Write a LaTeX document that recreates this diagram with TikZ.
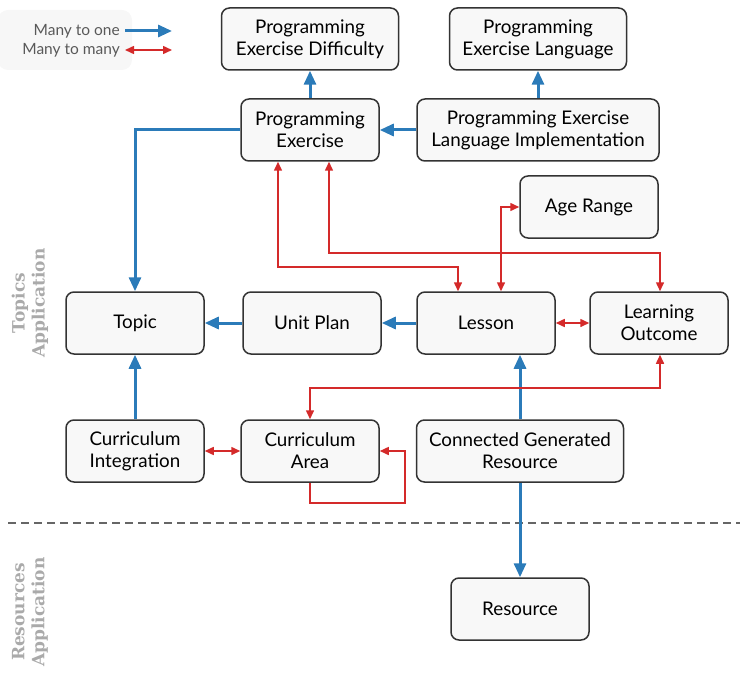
\documentclass[tikz,border=0pt]{standalone}
\usepackage{fontspec}
\setmainfont{Lato}
\newfontfamily\slabfont{DejaVu Serif}
\usetikzlibrary{arrows.meta}

\definecolor{oneblue}{HTML}{2B7BB9}
\definecolor{manyred}{HTML}{D42A2A}
\definecolor{boxline}{HTML}{333333}
\definecolor{boxfill}{HTML}{F8F8F8}
\definecolor{applabelgray}{HTML}{AAAAAA}

\tikzset{
    model/.style={draw=boxline, fill=boxfill, line width=1.5pt, rounded corners=8pt,
        minimum width=138pt, minimum height=62pt, align=center, inner sep=2pt,
        font=\fontsize{18.8}{22}\selectfont},
    manyone/.style={draw=oneblue, line width=3pt, -{Triangle[length=14pt,width=12pt]}},
    manymany/.style={draw=manyred, line width=1.5pt,
        {Triangle[length=9pt,width=8pt]}-{Triangle[length=9pt,width=8pt]}},
    manyloop/.style={draw=manyred, line width=1.5pt, -{Triangle[length=9pt,width=8pt]}},
    applabel/.style={rotate=90, align=center, text=applabelgray,
        font=\slabfont\bfseries\fontsize{17}{20}\selectfont},
    legendtext/.style={anchor=east, text=black!65, inner sep=0pt,
        font=\fontsize{15.5}{16}\selectfont}
}

\begin{document}
\begin{tikzpicture}[x=1pt, y=-1pt]
    \useasboundingbox (0,0) rectangle (746,679);

    % Legend
    \node [fill=black!3, rounded corners=10pt, minimum width=134pt, minimum height=60pt] (legend) at (65,40) {};
    \node [legendtext] (onelabel)  at (120,31) {Many to one};
    \node [legendtext] (manylabel) at (120,50) {Many to many};
    \draw [manyone]  ([xshift=5pt]onelabel.east) -- ++(47,0);
    \draw [manymany] ([xshift=5pt]manylabel.east) -- ++(47,0);

    % Application labels
    \node [applabel] (topicsapp)    at (30,303) {Topics\\Application};
    \node [applabel] (resourcesapp) at (30,612) {Resources\\Application};
    \draw [dashed, dash pattern=on 8pt off 5pt, line width=1.5pt, black!60] (8,523) -- (740,523);

    % Models
    \node [model, minimum width=177pt] (difficulty)     at (310,39)  {Programming\\Exercise Difficulty};
    \node [model, minimum width=177pt] (language)       at (538,39)  {Programming\\Exercise Language};
    \node [model]                      (exercise)       at (310,130) {Programming\\Exercise};
    \node [model, minimum width=242pt] (implementation) at (538,130) {Programming Exercise\\Language Implementation};
    \node [model]                      (agerange)       at (589,207) {Age Range};
    \node [model]                      (topic)          at (135,323) {Topic};
    \node [model]                      (unitplan)       at (312,323) {Unit Plan};
    \node [model]                      (lesson)         at (486,323) {Lesson};
    \node [model]                      (outcome)        at (659,323) {Learning\\Outcome};
    \node [model]                      (integration)    at (135,451) {Curriculum\\Integration};
    \node [model]                      (area)           at (310,451) {Curriculum\\Area};
    \node [model, minimum width=207pt] (connected)      at (520,451) {Connected Generated\\Resource};
    \node [model]                      (resource)       at (520,609) {Resource};

    % Many to one
    \draw [manyone] (exercise.north) -- (difficulty.south);
    \draw [manyone] (implementation.north) -- (language.south);
    \draw [manyone] (implementation.west) -- (exercise.east);
    \draw [manyone] (exercise.west) -| (topic.north);
    \draw [manyone] (unitplan.west) -- (topic.east);
    \draw [manyone] (lesson.west) -- (unitplan.east);
    \draw [manyone] (integration.north) -- (topic.south);
    \draw [manyone] (connected.north) -- (connected.north |- lesson.south);
    \draw [manyone] (connected.south) -- (resource.north);

    % Many to many
    \draw [manymany] ([xshift=-32pt]exercise.south) -- ++(0,105) -| ([xshift=-28pt]lesson.north);
    \draw [manymany] ([xshift=19pt]exercise.south) -- ++(0,91) -| ([xshift=1pt]outcome.north);
    \draw [manymany] (agerange.west) -| ([xshift=15pt]lesson.north);
    \draw [manymany] (lesson.east) -- (outcome.west);
    \draw [manymany] ([xshift=1pt]outcome.south) -- ++(0,33) -| (area.north);
    \draw [manymany] (integration.east) -- (area.west);
    \draw [manyloop] (area.south) -- ++(0,20) -| ([xshift=25pt]area.east) -- (area.east);
\end{tikzpicture}
\end{document}
